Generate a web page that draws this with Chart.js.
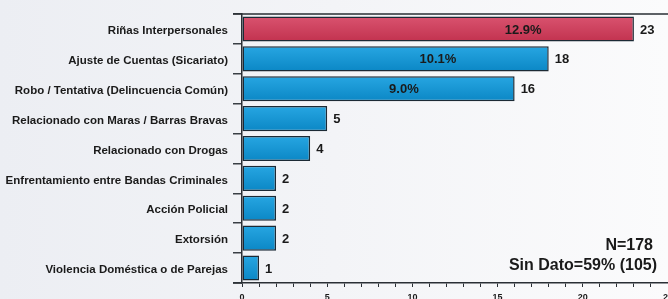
<!DOCTYPE html>
<html>
<head>
<meta charset="utf-8">
<script src="https://cdn.jsdelivr.net/npm/chart.js@4/dist/chart.umd.min.js"></script>
<style>
  html, body { margin: 0; padding: 0; }
  body { width: 668px; height: 299px; overflow: hidden; background: linear-gradient(90deg, #eceef3 0%, #f3f4f7 50%, #fbfbfc 100%); }
  #wrap { position: relative; width: 668px; height: 299px; }
</style>
</head>
<body>
<div id="wrap"><canvas id="chart"></canvas></div>
<script>
// datos
const categorias = [
    'Riñas Interpersonales',
    'Ajuste de Cuentas (Sicariato)',
    'Robo / Tentativa (Delincuencia Común)',
    'Relacionado con Maras / Barras Bravas',
    'Relacionado con Drogas',
    'Enfrentamiento entre Bandas Criminales',
    'Acción Policial',
    'Extorsión',
    'Violencia Doméstica o de Parejas'
];
const casos = [23, 18, 16, 5, 4, 2, 2, 2, 1];
const porcentajes = ['12.9%', '10.1%', '9.0%', null, null, null, null, null, null];
const xTicks = [0, 5, 10, 15, 20, 25];
const notas = ['N=178', 'Sin Dato=59% (105)'];

const FONT = '"Liberation Sans", Arial, sans-serif';
const INK = '#1a1a1a';

function barFill(context) {
    const i = context.dataIndex;
    const chart = context.chart;
    const top = i === 0 ? ['#d9536f', '#c2324f'] : ['#27a6e2', '#0b87c5'];
    const y = chart.scales && chart.scales.y;
    if (!y || !chart.chartArea) return top[0];
    const c = y.getPixelForValue(i);
    const half = y.height / categorias.length * 0.42;
    const g = chart.ctx.createLinearGradient(0, c - half, 0, c + half);
    g.addColorStop(0, top[0]);
    g.addColorStop(1, top[1]);
    return g;
}

// etiquetas de valores, porcentajes, ejes
const etiquetas = {
    id: 'etiquetas',
    afterDatasetsDraw(chart) {
        const { ctx, scales: { x, y }, chartArea } = chart;
        ctx.save();
        ctx.fillStyle = INK;
        ctx.textBaseline = 'middle';
        ctx.font = 'bold 13px ' + FONT;
        casos.forEach((v, i) => {
            const py = y.getPixelForValue(i);
            ctx.textAlign = 'left';
            ctx.fillText(String(v), x.getPixelForValue(v) + 6, py + 1);
            if (porcentajes[i]) {
                ctx.textAlign = 'center';
                ctx.fillText(porcentajes[i], x.getPixelForValue(v - 6.5), py + 1);
            }
        });
        // lineas superior e inferior
        ctx.strokeStyle = '#2a2f35';
        ctx.lineWidth = 1.5;
        ctx.beginPath();
        ctx.moveTo(chartArea.left - 9, chartArea.top);
        ctx.lineTo(chartArea.right, chartArea.top);
        ctx.moveTo(chartArea.left - 9, chartArea.bottom);
        ctx.lineTo(chartArea.left, chartArea.bottom);
        ctx.stroke();
        // ticks eje x
        ctx.font = 'bold 9px ' + FONT;
        ctx.textAlign = 'center';
        xTicks.forEach(t => ctx.fillText(String(t), x.getPixelForValue(t), chartArea.bottom + 15));
        // notas
        ctx.font = 'bold 16px ' + FONT;
        ctx.textAlign = 'right';
        ctx.fillText(notas[0], chartArea.right - 15, y.getPixelForValue(7) + 7);
        ctx.fillText(notas[1], chartArea.right - 11, y.getPixelForValue(8) - 2);
        ctx.restore();
    }
};

new Chart(document.getElementById('chart'), {
    type: 'bar',
    data: {
        labels: categorias,
        datasets: [{
            data: casos,
            backgroundColor: barFill,
            borderColor: '#1c2a35',
            borderWidth: 1.5,
            borderSkipped: false,
            categoryPercentage: 1,
            barPercentage: 0.84
        }]
    },
    options: {
        indexAxis: 'y',
        responsive: true,
        maintainAspectRatio: false,
        animation: false,
        layout: { padding: { top: 14, right: 0, left: 0, bottom: 0 } },
        plugins: { legend: { display: false }, tooltip: { enabled: false } },
        scales: {
            x: {
                min: 0, max: 25,
                ticks: { display: false, stepSize: 1 },
                grid: { drawOnChartArea: false, tickLength: 4, color: '#2a2f35', lineWidth: 1 },
                border: { color: '#2a2f35', width: 1.5 },
                afterFit(scale) { scale.height = 16; }
            },
            y: {
                ticks: { color: INK, font: { family: FONT, size: 11.5, weight: 'bold' }, padding: 5, labelOffset: 2 },
                grid: { offset: true, drawOnChartArea: false, tickLength: 9, color: '#3a3f45', lineWidth: 1.5 },
                border: { color: '#2a2f35', width: 1.5 },
                afterFit(scale) { scale.width = 242; }
            }
        }
    },
    plugins: [etiquetas]
});
</script>
</body>
</html>
